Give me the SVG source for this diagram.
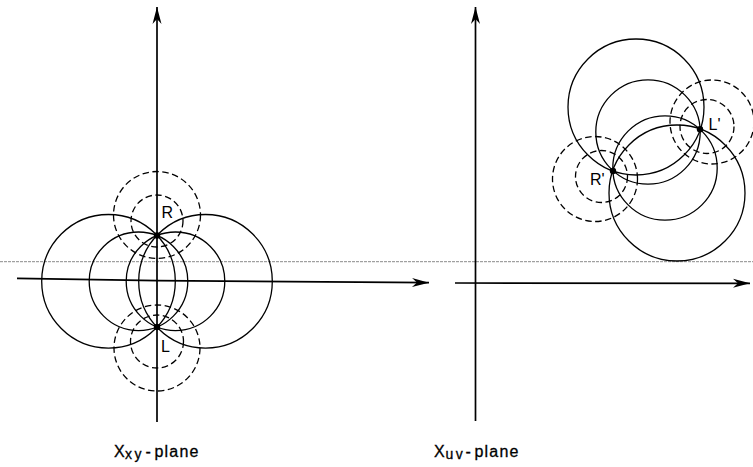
<svg xmlns="http://www.w3.org/2000/svg" width="753" height="467" viewBox="0 0 753 467">
<style>
.solid{fill:none;stroke:#000;stroke-width:1.3}
.dash{fill:none;stroke:#000;stroke-width:1.3;stroke-dasharray:6.5 3.5}
.axis{fill:none;stroke:#000;stroke-width:1.7}
.ref{fill:none;stroke:#8a8a8a;stroke-width:1;stroke-dasharray:3 1}
.pt{fill:#000}
.lbl{font-family:"Liberation Sans",Arial,sans-serif;font-size:16px;fill:#000}
.cap{font-family:"Liberation Sans",Arial,sans-serif;font-size:16px;fill:#000;stroke:#000;stroke-width:0.3}
.sub{font-size:14px;letter-spacing:2.5px}
</style>
<defs>
<marker id="arr" markerUnits="userSpaceOnUse" markerWidth="20" markerHeight="12" viewBox="-18 -6 20 12" refX="0" refY="0" orient="auto">
<path d="M0,0 L-17,-4.5 L-12,0 L-17,4.5 Z" fill="#000"/>
</marker>
</defs>
<rect width="753" height="467" fill="#fff"/>
<g id="reference-line">
<line class="ref" x1="0" y1="261.7" x2="753" y2="261.7"/>
</g>
<g id="connectors">
<line class="axis" x1="157" y1="422" x2="157" y2="7" marker-end="url(#arr)"/>
<polyline class="axis" points="17,278.4 157,280.6 429,282.7" marker-end="url(#arr)"/>
<line class="axis" x1="475.5" y1="421" x2="475.5" y2="7" marker-end="url(#arr)"/>
<line class="axis" x1="455" y1="283" x2="750" y2="283.3" marker-end="url(#arr)"/>
</g>
<g id="xy-circles">
<circle class="solid" cx="108.5" cy="281.3" r="66.8"/>
<circle class="solid" cx="205.5" cy="281.3" r="66.8"/>
<circle class="solid" cx="138.5" cy="281.3" r="49.3"/>
<circle class="solid" cx="175.5" cy="281.3" r="49.3"/>
<circle class="dash" cx="157" cy="215" r="43.5"/>
<circle class="dash" cx="157" cy="221" r="26"/>
<circle class="dash" cx="157" cy="348" r="43"/>
<circle class="dash" cx="157" cy="341.5" r="26.5"/>
</g>
<g id="node-R">
<circle class="pt" cx="157" cy="235.5" r="3.2"/>
<text class="lbl" x="161.5" y="217.5">R</text>
</g>
<g id="node-L">
<circle class="pt" cx="157" cy="327" r="3.2"/>
<text class="lbl" x="161" y="351.7">L</text>
</g>
<g id="uv-circles">
<circle class="solid" cx="636" cy="107" r="68"/>
<circle class="solid" cx="677" cy="193" r="68"/>
<circle class="solid" cx="648" cy="132" r="52.2"/>
<circle class="solid" cx="665" cy="168" r="52.2"/>
<circle class="dash" cx="595" cy="179" r="42.5"/>
<circle class="dash" cx="601.5" cy="176.5" r="26"/>
<circle class="dash" cx="712" cy="122" r="42"/>
<circle class="dash" cx="707" cy="126.5" r="27"/>
</g>
<g id="node-Rp">
<circle class="pt" cx="613" cy="171" r="3.2"/>
<text class="lbl" x="590" y="184.5">R'</text>
</g>
<g id="node-Lp">
<circle class="pt" cx="700" cy="129.3" r="3.2"/>
<text class="lbl" x="708.5" y="129.5">L'</text>
</g>
<g id="caption-xy">
<text class="cap" y="456.7"><tspan x="114">X</tspan><tspan class="sub" x="125" y="459">xy</tspan><tspan x="145.5" y="456.7">-</tspan><tspan x="154.5" letter-spacing="1.2">plane</tspan></text>
</g>
<g id="caption-uv">
<text class="cap" y="456.7"><tspan x="434">X</tspan><tspan class="sub" x="445.5" y="459">uv</tspan><tspan x="465.5" y="456.7">-</tspan><tspan x="474.5" letter-spacing="1.2">plane</tspan></text>
</g>
</svg>
